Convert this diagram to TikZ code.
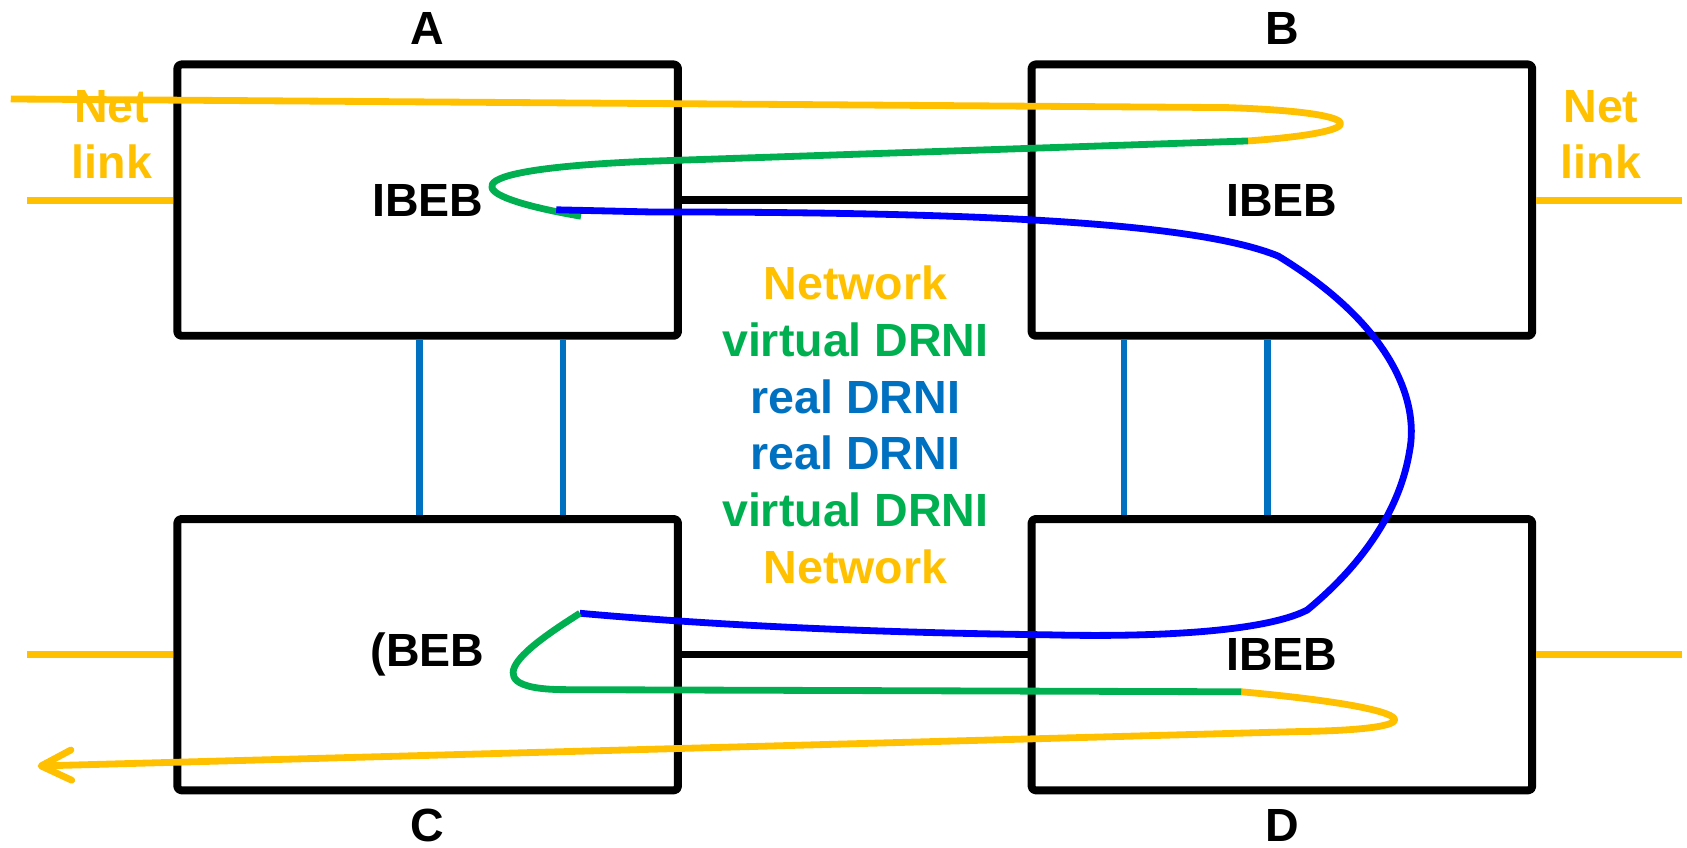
\documentclass[tikz,border=0pt]{standalone}
\usepackage{fontspec}
\setmainfont{Liberation Sans}
\usetikzlibrary{positioning, arrows.meta}

\definecolor{netc}{HTML}{FFC000}
\definecolor{virtc}{HTML}{00B050}
\definecolor{realc}{HTML}{0070C0}
\definecolor{loopc}{HTML}{0000FF}

\begin{document}
\begin{tikzpicture}[x=0.01cm, y=-0.01cm, line join=round,
    every node/.style={font=\bfseries\fontsize{12.3}{15}\selectfont},
    box/.style={draw, line width=2.1pt, rounded corners=1pt, minimum width=4.65cm, minimum height=2.52cm},
    boxname/.style={inner sep=0pt},
    conn/.style={line width=2pt},
    link/.style={realc, line width=1.7pt},
    net/.style={netc, line width=1.8pt},
    virt/.style={virtc, line width=1.8pt},
    real/.style={loopc, line width=1.8pt}]
    \useasboundingbox (0,0) rectangle (1568,788);

    % the four bridges
    \node[box] (A) at (397.5,186) {IBEB};
    \node[box] (B) at (1191.5,186) {IBEB};
    \node[box] (C) at (397.5,608.5) {(BEB};
    \node[box] (D) at (1191.5,608.5) {IBEB};

    \node[boxname, above=0.14cm of A] (nameA) {A};
    \node[boxname, above=0.14cm of B] (nameB) {B};
    \node[boxname, below=0.13cm of C] (nameC) {C};
    \node[boxname, below=0.13cm of D] (nameD) {D};

    % legend in the middle
    \node[align=center] (legend) at (795,395)
        {\color{netc}Network\\\color{virtc}virtual DRNI\\\color{realc}real DRNI\\
         \color{realc}real DRNI\\\color{virtc}virtual DRNI\\\color{netc}Network};

    % net links
    \node[netc, align=center] (netlinkL) at (104,125) {Net\\link};
    \node[netc, align=center] (netlinkR) at (1488,125) {Net\\link};

    \coordinate (stubA) at (25,186);
    \coordinate (stubB) at (1563,186);
    \coordinate (stubC) at (25,608.5);
    \coordinate (stubD) at (1563,608.5);
    \draw[net] (stubA) -- (A.west);
    \draw[net] (B.east) -- (stubB);
    \draw[net] (stubC) -- (C.west);
    \draw[net] (D.east) -- (stubD);

    % links between the bridges
    \draw[conn] (A.east) -- (B.west);
    \draw[conn] (C.east) -- (D.west);
    \draw[link] ([xshift=-0.075cm]A.south) -- ([xshift=-0.075cm]C.north);
    \draw[link] ([xshift=1.255cm]A.south) -- ([xshift=1.255cm]C.north);
    \draw[link] ([xshift=-1.465cm]B.south) -- ([xshift=-1.465cm]D.north);
    \draw[link] ([xshift=-0.135cm]B.south) -- ([xshift=-0.135cm]D.north);

    % the path of a frame
    \coordinate (netin) at (10,92);
    \coordinate (netout) at (35,712);
    \coordinate (turnB) at (1160,131);
    \coordinate (turnA) at (540,201);
    \coordinate (realA) at (517,195);
    \coordinate (realC) at (539,570);
    \coordinate (turnD) at (1154,643);

    \draw[net] (netin) -- (1140,100) .. controls (1270,104) and (1285,122) .. (turnB);
    \draw[virt] (turnB) -- (600,150) .. controls (410,158) and (430,182) .. (turnA);
    \draw[real] (realA) -- (604,197) .. controls (900,197) and (1110,206) .. (1188,238)
        .. controls (1290,300) and (1320,370) .. (1310,420)
        .. controls (1300,480) and (1260,530) .. (1215,567)
        .. controls (1170,590) and (1050,592) .. (973,590)
        .. controls (800,588) and (650,580) .. (realC);
    \draw[virt] (realC) .. controls (500,595) and (430,640) .. (523,641) -- (turnD);
    \draw[net, -{Straight Barb[length=8pt, width=8pt, round]}] (turnD)
        .. controls (1320,658) and (1345,678) .. (1206,680) -- (netout);
\end{tikzpicture}
\end{document}
